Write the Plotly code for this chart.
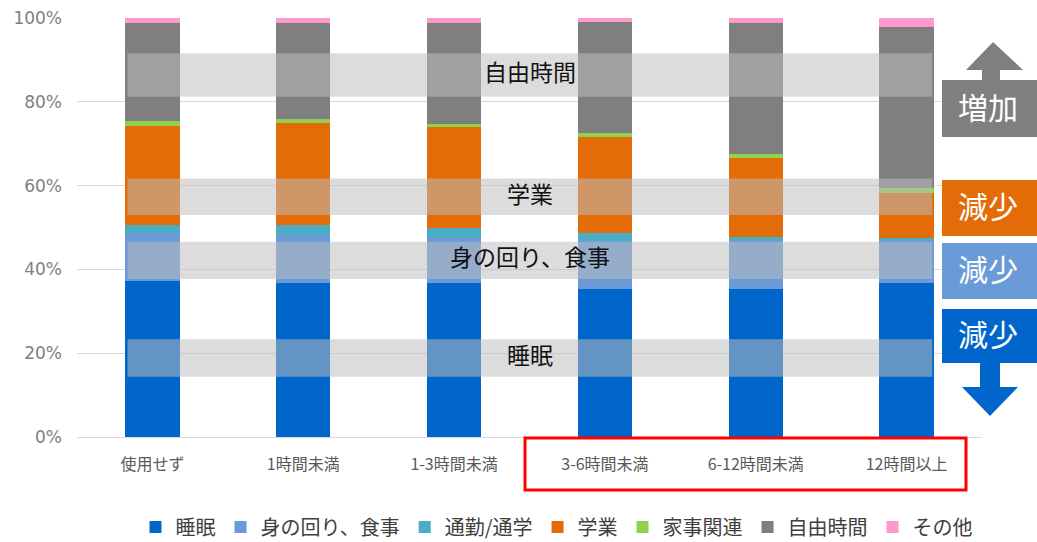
import plotly.graph_objects as go

# Daily time-use share by smartphone usage time (stacked to 100%)
categories = ["使用せず", "1時間未満", "1-3時間未満", "3-6時間未満", "6-12時間未満", "12時間以上"]

sleep = [37.2, 36.8, 36.7, 35.3, 35.3, 36.7]
personal_care = [11.5, 11.4, 10.8, 11.5, 11.7, 10.2]
commute = [1.9, 2.4, 2.3, 1.8, 0.8, 0.5]
study = [23.7, 24.3, 24.1, 23.1, 18.7, 10.8]
housework = [1.0, 1.0, 0.7, 0.8, 1.0, 1.2]
free_time = [23.4, 23.0, 24.1, 26.5, 31.2, 38.4]
other = [1.3, 1.1, 1.3, 1.0, 1.3, 2.2]

series_names = ["睡眠", "身の回り、食事", "通勤/通学", "学業", "家事関連", "自由時間", "その他"]
series_values = [sleep, personal_care, commute, study, housework, free_time, other]
series_colors = ["#0066CC", "#6A9BD8", "#4BACC6", "#E36C09", "#92D050", "#7F7F7F", "#FF99CC"]

# Highlight bands: (label, lower %, upper %)
bands = [
    ("自由時間", 81.2, 91.6),
    ("学業", 53.0, 61.7),
    ("身の回り、食事", 37.7, 46.6),
    ("睡眠", 14.4, 23.3),
]

# Trend markers on the right: (text, colour, top px, bottom px)
trend_boxes = [
    ("増加", "#7F7F7F", 80, 137),
    ("減少", "#E36C09", 180, 236),
    ("減少", "#6A9BD8", 243, 299),
    ("減少", "#0066CC", 309, 363),
]

W, H = 1037, 542
L, R, T, B = 77, 982, 18, 437


def px(x):
    return (x - L) / (R - L)


def py(y):
    return (B - y) / (B - T)


fig = go.Figure()
for name, vals, col in zip(series_names, series_values, series_colors):
    fig.add_trace(go.Bar(
        x=categories, y=vals, name=name,
        marker=dict(color=col, line=dict(width=0)),
        width=0.36,
    ))

shapes = []
annotations = []

for label, lo, hi in bands:
    shapes.append(dict(
        type="rect", xref="x", yref="y", x0=-0.165, x1=5.17, y0=lo, y1=hi,
        fillcolor="rgba(189,189,189,0.53)", line=dict(width=0), layer="above",
    ))
    annotations.append(dict(
        x=2.5, y=(lo + hi) / 2, xref="x", yref="y", text=label, showarrow=False,
        font=dict(family="Noto Sans CJK JP", size=23, color="#111111"),
        xanchor="center", yanchor="middle", yshift=4,
    ))

for text, col, top, bot in trend_boxes:
    shapes.append(dict(
        type="rect", xref="paper", yref="paper",
        x0=px(942), x1=px(1040), y0=py(bot), y1=py(top),
        fillcolor=col, line=dict(width=0), layer="above",
    ))
    annotations.append(dict(
        x=px(988), y=py((top + bot) / 2), xref="paper", yref="paper",
        text=text, showarrow=False,
        font=dict(family="Noto Sans CJK JP", size=30, color="white"),
        xanchor="center", yanchor="middle", yshift=3,
    ))


def path(points):
    return "M " + " L ".join(f"{px(a)},{py(b)}" for a, b in points) + " Z"


# Upward arrow over the grey box
shapes.append(dict(
    type="path", xref="paper", yref="paper", layer="above",
    path=path([(993, 42), (1023, 70), (1000, 70), (1000, 81), (982, 81), (982, 70), (966, 70)]),
    fillcolor="#7F7F7F", line=dict(width=0),
))
# Downward arrow under the blue box
shapes.append(dict(
    type="path", xref="paper", yref="paper", layer="above",
    path=path([(980, 362), (1000, 362), (1000, 387), (1018, 387), (990, 416), (962, 387), (980, 387)]),
    fillcolor="#0066CC", line=dict(width=0),
))
# Frame around the heavy-use categories
shapes.append(dict(
    type="rect", xref="paper", yref="paper",
    x0=px(525), x1=px(966), y0=py(490), y1=py(438),
    line=dict(color="#FF0000", width=3), fillcolor="rgba(0,0,0,0)", layer="above",
))

fig.update_layout(
    width=W, height=H,
    margin=dict(l=L, r=W - R, t=T, b=H - B, pad=0, autoexpand=False),
    barmode="stack",
    bargap=0.64,
    plot_bgcolor="white", paper_bgcolor="white",
    shapes=shapes, annotations=annotations,
    showlegend=True,
    legend=dict(
        orientation="h", x=px(557), xanchor="center", y=py(527), yanchor="middle",
        traceorder="normal",
        font=dict(family="Noto Sans CJK JP", size=20, color="#404040"),
        itemwidth=30, tracegroupgap=0,
    ),
    xaxis=dict(
        type="category", range=[-0.5, 5.5],
        showgrid=False, showline=True, linecolor="#D9D9D9", linewidth=1,
        ticks="", ticklabelstandoff=13,
        tickfont=dict(family="Noto Sans CJK JP", size=16, color="#595959"),
    ),
    yaxis=dict(
        range=[0, 100], tickvals=[0, 20, 40, 60, 80, 100],
        ticktext=["0%", "20%", "40%", "60%", "80%", "100%"],
        showgrid=True, gridcolor="#D9D9D9", gridwidth=1,
        zeroline=False, showline=False, ticks="", ticklabelstandoff=14,
        tickfont=dict(family="DejaVu Sans", size=17, color="#7F7F7F"),
    ),
)

fig.write_html("out.html")
